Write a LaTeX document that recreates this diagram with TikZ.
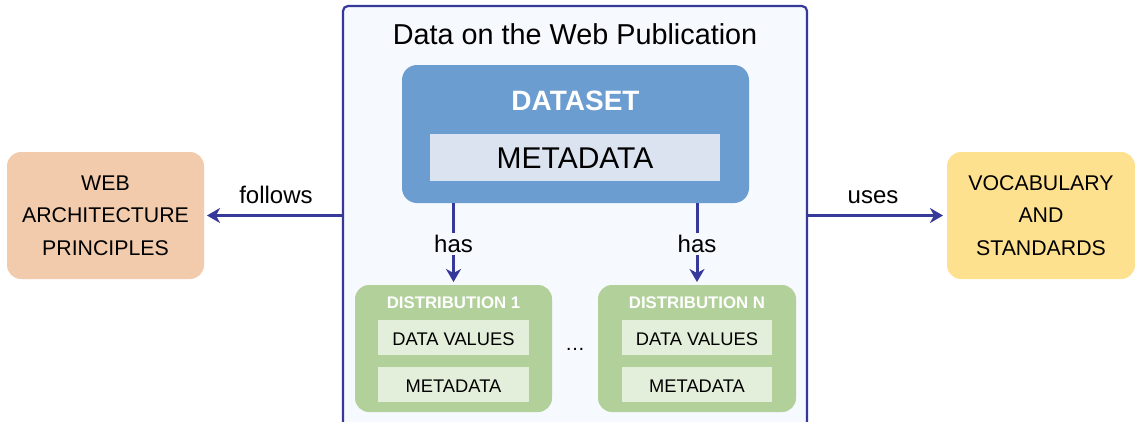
\documentclass[tikz,border=0pt]{standalone}
\usepackage{fontspec}
\setmainfont{Liberation Sans}
\usetikzlibrary{arrows.meta}
\definecolor{navy}{HTML}{36399A}
\definecolor{outerfill}{HTML}{F6F9FE}
\definecolor{dsfill}{HTML}{6B9DD1}
\definecolor{mdfill}{HTML}{DCE3F0}
\definecolor{distfill}{HTML}{B2D09A}
\definecolor{innerfill}{HTML}{E3EFDA}
\definecolor{webfill}{HTML}{F2CBAC}
\definecolor{vocfill}{HTML}{FEE18F}
\tikzset{
  px/.style={x=1pt,y=-1pt},
  boxshape/.style={rectangle,inner sep=0pt,outer sep=0pt},
  outerbox/.style={boxshape,draw=navy,line width=2.2pt,fill=outerfill,rounded corners=5pt},
  dsbox/.style={boxshape,fill=dsfill,rounded corners=15pt},
  mdbox/.style={boxshape,fill=mdfill},
  distbox/.style={boxshape,fill=distfill,rounded corners=14pt},
  innerbox/.style={boxshape,fill=innerfill,font=\fontsize{18.3}{20}\selectfont},
  sidebox/.style={boxshape,rounded corners=14pt,align=center,font=\fontsize{21.3}{32.5}\selectfont},
  arr/.style={draw=navy,line width=3pt,-{Stealth[length=13pt,width=15pt,inset=4pt]}},
  lbl/.style={inner sep=1pt,font=\fontsize{24}{26}\selectfont},
}
\begin{document}
\begin{tikzpicture}[px]
\useasboundingbox (0,0) rectangle (1135,421);
\clip (0,0) rectangle (1135,421);
% outer publication box
\node[outerbox,minimum width=464pt,minimum height=440pt] (outer) at (575,226) {};
\node[anchor=base,inner sep=0pt,font=\fontsize{28.8}{30}\selectfont] (title) at (575,44) {Data on the Web Publication};
% dataset
\node[dsbox,minimum width=347pt,minimum height=138pt] (dataset) at (575.5,134) {};
\node[anchor=base,inner sep=0pt,text=white,font=\fontsize{28}{30}\selectfont\bfseries] (dstitle) at (575.5,110) {DATASET};
\node[mdbox,minimum width=290pt,minimum height=47pt] (dsmeta) at (575,157.5) {};
\node[anchor=base,inner sep=0pt,font=\fontsize{30}{32}\selectfont] (dsmetatxt) at (575,168) {METADATA};
% distributions
\node[distbox,minimum width=197pt,minimum height=127pt] (d1) at (453.5,348.5) {};
\node[distbox,minimum width=198pt,minimum height=127pt] (dn) at (697,348.5) {};
\node[anchor=base,inner sep=0pt,text=white,font=\fontsize{16.8}{18}\selectfont\bfseries] (d1title) at (453.5,308) {DISTRIBUTION 1};
\node[anchor=base,inner sep=0pt,text=white,font=\fontsize{16.8}{18}\selectfont\bfseries] (dntitle) at (697,308) {DISTRIBUTION N};
\node[innerbox,minimum width=151pt,minimum height=35pt] (d1val) at (453.5,337.5) {};
\node[innerbox,minimum width=151pt,minimum height=35pt] (d1meta) at (453.5,384.5) {};
\node[innerbox,minimum width=150pt,minimum height=35pt] (dnval) at (697,337.5) {};
\node[innerbox,minimum width=150pt,minimum height=35pt] (dnmeta) at (697,384.5) {};
\node[anchor=base,inner sep=0pt,font=\fontsize{18.3}{20}\selectfont] (d1valt) at (453.5,345) {DATA VALUES};
\node[anchor=base,inner sep=0pt,font=\fontsize{18.3}{20}\selectfont] (d1metat) at (453.5,392) {METADATA};
\node[anchor=base,inner sep=0pt,font=\fontsize{18.3}{20}\selectfont] (dnvalt) at (697,345) {DATA VALUES};
\node[anchor=base,inner sep=0pt,font=\fontsize{18.3}{20}\selectfont] (dnmetat) at (697,392) {METADATA};
\node[anchor=base,inner sep=0pt,font=\fontsize{20}{22}\selectfont] (dots) at (575,350) {\dots};
% side boxes
\node[sidebox,fill=webfill,minimum width=197pt,minimum height=127pt] (web) at (105.5,215.5) {WEB\\ARCHITECTURE\\PRINCIPLES};
\node[sidebox,fill=vocfill,minimum width=188pt,minimum height=127pt] (voc) at (1041,215.5) {VOCABULARY\\AND\\STANDARDS};
% connectors
\draw[arr,shorten >=3pt] (web.east -| outer.west) -- (web.east);
\node[anchor=base,lbl] (follows) at (276,203) {follows};
\draw[arr,shorten >=4pt] (voc.west -| outer.east) -- (voc.west);
\node[anchor=base,lbl] (uses) at (873,203) {uses};
\draw[arr,shorten >=3pt] (d1.north |- dataset.south) -- node[lbl,fill=outerfill,inner sep=2pt] (has1) {has} (d1.north);
\draw[arr,shorten >=3pt] (dn.north |- dataset.south) -- node[lbl,fill=outerfill,inner sep=2pt] (has2) {has} (dn.north);
\end{tikzpicture}
\end{document}
